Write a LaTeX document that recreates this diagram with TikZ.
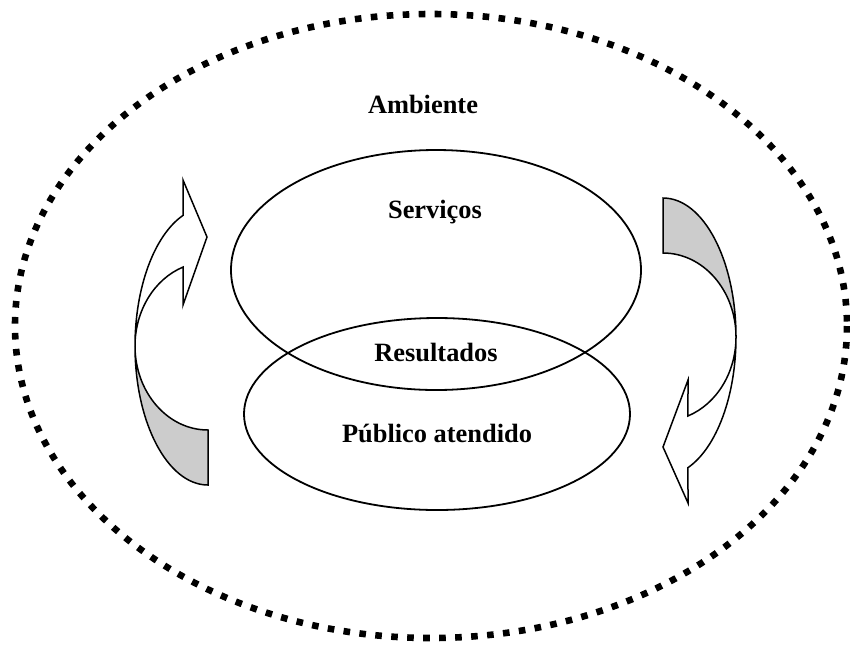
\documentclass[tikz,border=0pt]{standalone}
\usepackage{fontspec}
\setmainfont{Liberation Serif}
\usetikzlibrary{calc}

\begin{document}
\begin{tikzpicture}[x=0.5pt,y=-0.5pt,
	labeltext/.style={font=\bfseries\fontsize{13.2}{15}\selectfont,anchor=base,inner sep=0pt},
	arrowbody/.style={draw=black,line width=0.75pt,line join=miter},
	ring/.style={draw=black,line width=0.9pt},
	]
	\useasboundingbox (0,0) rectangle (850,644);

	\coordinate (CL) at (208,346);
	\coordinate (CR) at (663,337);

	\coordinate (LTo) at ($(CL)+(90:73 and 139)$);
	\coordinate (LX) at ($(CL)+(180:73 and 139)$);
	\coordinate (LHi) at ($(CL)+(250:73 and 84)$);

	\coordinate (RTo) at ($(CR)+(270:73 and 139)$);
	\coordinate (RX) at ($(CR)+(0:73 and 139)$);
	\coordinate (RHi) at ($(CR)+(70:73 and 84)$);

	% ambiente
	\draw[line width=3.3pt,dash pattern=on 3.3pt off 4.7pt]
		(431,326) ellipse [x radius=416,y radius=312];

	\draw[ring] (436,270) ellipse [x radius=205,y radius=120];
	\draw[ring] (437,414) ellipse [x radius=193,y radius=96];

	\node[labeltext] (amb) at (423,113) {Ambiente};
	\node[labeltext] (serv) at (435,218) {Serviços};
	\node[labeltext] (res) at (436,361) {Resultados};
	\node[labeltext] (pub) at (437,442) {Público atendido};

	% seta esquerda
	\draw[arrowbody,fill=black!20] (LTo)
		arc[start angle=90,end angle=180,x radius=73,y radius=139]
		arc[start angle=180,end angle=90,x radius=73,y radius=84] -- cycle;
	\draw[arrowbody,fill=white] (LX)
		arc[start angle=180,end angle=250,x radius=73,y radius=139]
		-- (183,180) -- (207,237) -- (183,305) -- (LHi)
		arc[start angle=250,end angle=180,x radius=73,y radius=84] -- cycle;

	% seta direita
	\draw[arrowbody,fill=black!20] (RTo)
		arc[start angle=270,end angle=360,x radius=73,y radius=139]
		arc[start angle=360,end angle=270,x radius=73,y radius=84] -- cycle;
	\draw[arrowbody,fill=white] (RX)
		arc[start angle=0,end angle=70,x radius=73,y radius=139]
		-- (688,503) -- (663,447) -- (688,380) -- (RHi)
		arc[start angle=70,end angle=0,x radius=73,y radius=84] -- cycle;
\end{tikzpicture}
\end{document}
